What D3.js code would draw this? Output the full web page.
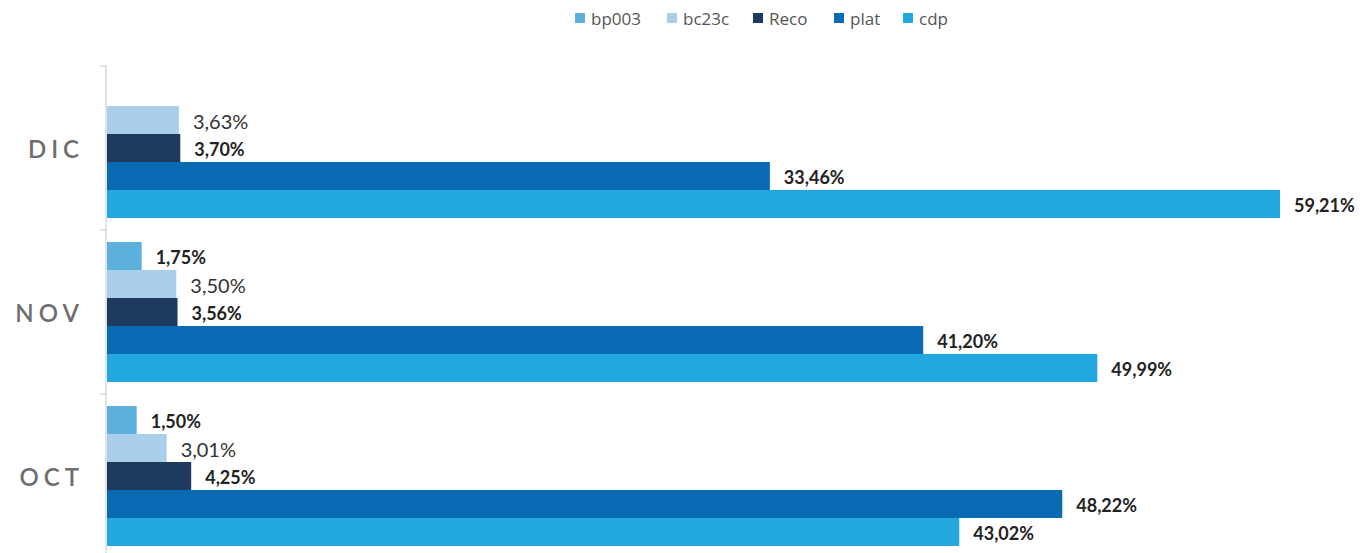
<!DOCTYPE html>
<html>
<head>
<meta charset="utf-8">
<script src="https://cdn.jsdelivr.net/npm/d3@7"></script>
<style>
  html, body { margin: 0; padding: 0; background: #fff; }
  svg { display: block; }
</style>
</head>
<body>
<svg id="chart" width="1361" height="553"></svg>
<script>
const categories = ["DIC", "NOV", "OCT"];
const seriesNames = ["bp003", "bc23c", "Reco", "plat", "cdp"];
const bp003 = [null, 1.75, 1.50];
const bc23c = [3.63, 3.50, 3.01];
const reco  = [3.70, 3.56, 4.25];
const plat  = [33.46, 41.20, 48.22];
const cdp   = [59.21, 49.99, 43.02];
const seriesValues = [bp003, bc23c, reco, plat, cdp];
const colors = ["#5BB1DB", "#A9CFEA", "#1E3A5F", "#0A6BB5", "#22A8DF"];
const boldLabel = [true, false, true, true, true];

const svg = d3.select("#chart");
const margin = { left: 107, top: 66 };
const plotH = 492;

const x = d3.scaleLinear().domain([0, 59.21]).range([margin.left, 1280]);
const y0 = d3.scaleBand().domain(categories).range([margin.top, margin.top + plotH]).paddingInner(0).paddingOuter(0);
const y1 = d3.scaleBand().domain(seriesNames).range([0, y0.bandwidth()]).paddingOuter(0.43).paddingInner(0);

// axis
const gAxis = svg.append("g").attr("transform", `translate(${margin.left - 1},0)`);
gAxis.append("line").attr("x1", 0).attr("x2", 0).attr("y1", margin.top).attr("y2", 553).attr("stroke", "#d0d0d0").attr("stroke-width", 1.2);
const boundaries = categories.map(c => y0(c));
gAxis.selectAll("line.tick").data(boundaries).enter().append("line")
  .attr("x1", -6).attr("x2", 0).attr("y1", d => d).attr("y2", d => d)
  .attr("stroke", "#d0d0d0").attr("stroke-width", 1.2);

// category labels
svg.selectAll("text.cat").data(categories).enter().append("text")
  .attr("x", 84).attr("y", d => y0(d) + y0.bandwidth() / 2)
  .attr("text-anchor", "end").attr("dominant-baseline", "central")
  .attr("font-family", "Lato, 'Open Sans', sans-serif").attr("font-size", 24).attr("font-weight", 600)
  .attr("letter-spacing", 5).attr("fill", "#6e6e6e")
  .text(d => d);

// bars
seriesNames.forEach((s, si) => {
  const vals = seriesValues[si];
  const data = categories.map((c, ci) => ({ c, v: vals[ci] })).filter(d => d.v !== null);
  svg.append("g").selectAll("rect").data(data).enter().append("rect")
    .attr("x", x(0)).attr("y", d => y0(d.c) + y1(s))
    .attr("width", d => x(d.v) - x(0)).attr("height", y1.bandwidth())
    .attr("fill", colors[si]);
  svg.append("g").selectAll("text").data(data).enter().append("text")
    .attr("x", d => x(d.v) + 14).attr("y", d => y0(d.c) + y1(s) + y1.bandwidth() / 2 + 1)
    .attr("dominant-baseline", "central")
    .attr("font-family", "Lato, 'Open Sans', sans-serif")
    .attr("font-size", boldLabel[si] ? 18 : 20)
    .attr("font-weight", boldLabel[si] ? 700 : 400)
    .attr("fill", boldLabel[si] ? "#222" : "#333")
    .text(d => d.v.toFixed(2).replace(".", ",") + "%");
});

// legend
const legendX = [575, 667, 753, 834, 903];
const lg = svg.append("g");
seriesNames.forEach((s, i) => {
  lg.append("rect").attr("x", legendX[i]).attr("y", 13).attr("width", 10).attr("height", 10).attr("fill", colors[i]);
  lg.append("text").attr("x", legendX[i] + 16).attr("y", 18).attr("dominant-baseline", "central")
    .attr("font-family", "'Open Sans', 'Noto Sans', sans-serif").attr("font-size", 17).attr("fill", "#555")
    .text(s);
});
</script>
</body>
</html>
